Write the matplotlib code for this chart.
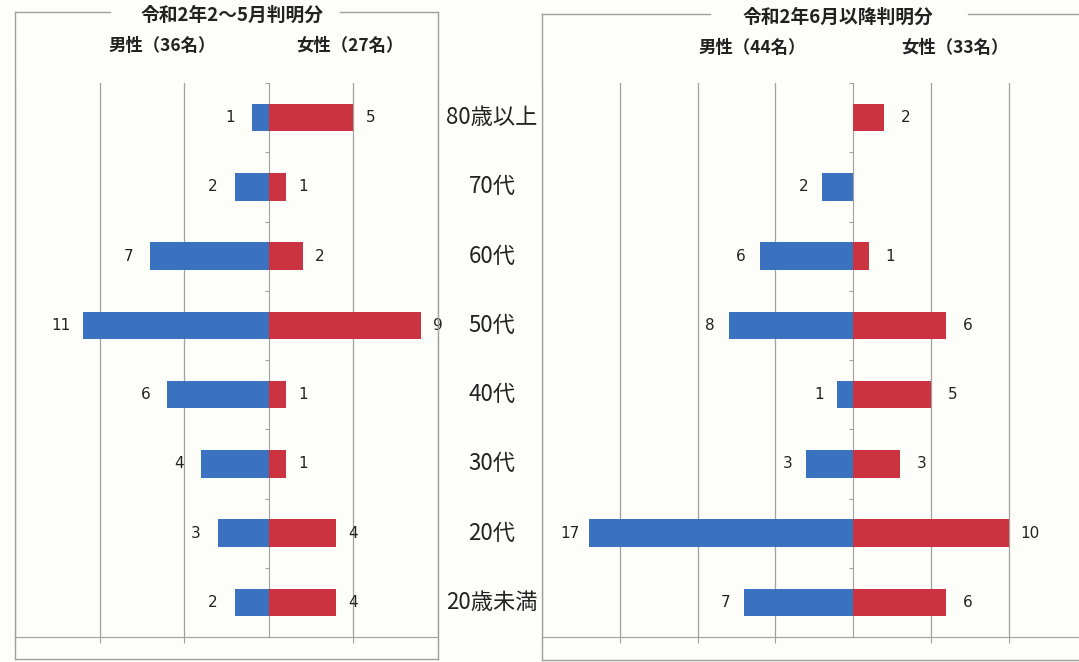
import matplotlib.pyplot as plt
from matplotlib import transforms
from matplotlib.lines import Line2D

plt.rcParams['font.family'] = ['Noto Sans CJK JP', 'DejaVu Sans']

# データ(上から下の順)
ages = ['80歳以上', '70代', '60代', '50代', '40代', '30代', '20代', '20歳未満']
male_1 = [1, 2, 7, 11, 6, 4, 3, 2]
female_1 = [5, 1, 2, 9, 1, 1, 4, 4]
male_2 = [0, 2, 6, 8, 1, 3, 17, 7]
female_2 = [2, 0, 1, 6, 5, 3, 10, 6]
titles = ['令和2年2～5月判明分', '令和2年6月以降判明分']
male_lbl = ['男性（36名）', '男性（44名）']
female_lbl = ['女性（27名）', '女性（33名）']

BLUE = '#3a72c0'
RED = '#cc3340'
GRID = '#a0a0a0'
BG = '#fdfdf9'

W, H = 1079, 662
fig = plt.figure(figsize=(W / 100, H / 100), dpi=100, facecolor=BG)

def fx(px):
    return px / W

def fy(py):
    return 1 - py / H

def dibujar(ax, male, female, xlim, dl, dr):
    y = list(range(len(ages)))
    ax.set_facecolor(BG)
    neg = [-m for m in male]
    ax.barh(y, neg, height=0.4, color=BLUE, zorder=3)
    ax.barh(y, female, height=0.4, color=RED, zorder=3)
    ax.set_xlim(*xlim)
    ax.set_ylim(len(ages) - 0.5, -0.5)
    for i in y:
        if male[i] > 0:
            ax.text(-male[i] - dl, i, str(male[i]), ha='center', va='center',
                    fontsize=11, color='#222222', family='DejaVu Sans')
        if female[i] > 0:
            ax.text(female[i] + dr, i, str(female[i]), ha='center', va='center',
                    fontsize=11, color='#222222', family='DejaVu Sans')
    ticks = [t for t in range(-20, 16, 5) if xlim[0] <= t <= xlim[1] and t != 0]
    ax.set_xticks(ticks)
    ax.set_xticklabels([])
    ax.tick_params(axis='x', length=4, color=GRID)
    for t in ticks:
        ax.axvline(t, color=GRID, lw=0.9, zorder=1)
    for s in ['top', 'right']:
        ax.spines[s].set_visible(False)
    ax.spines['left'].set_position(('data', 0))
    ax.spines['left'].set_color(GRID)
    ax.spines['bottom'].set_color(GRID)
    ax.set_yticks([i + 0.5 for i in range(-1, len(ages))])
    ax.set_yticklabels([])
    ax.tick_params(axis='y', length=3, color=GRID)

ax1 = fig.add_axes([fx(15), fy(637), fx(438 - 15), fy(83) - fy(637)])
dibujar(ax1, male_1, female_1, (-15, 10), 1.3, 1.0)
ax2 = fig.add_axes([fx(542), fy(637), fx(W - 542), fy(83) - fy(637)])
dibujar(ax2, male_2, female_2, (-20, 14.53), 1.2, 1.4)

# 年齢ラベル
tr = transforms.blended_transform_factory(fig.transFigure, ax1.transData)
for i, a in enumerate(ages):
    ax1.text(fx(492), i, a, transform=tr, ha='center', va='center',
             fontsize=16, color='#222222', clip_on=False)

# 枠線
def linea(x0, y0, x1, y1):
    fig.add_artist(Line2D([fx(x0), fx(x1)], [fy(y0), fy(y1)],
                          color=GRID, lw=1.0, transform=fig.transFigure))

linea(15, 12, 110, 12)
linea(340, 12, 438, 12)
linea(15, 12, 15, 659)
linea(438, 12, 438, 659)
linea(15, 659, 438, 659)
linea(542, 14, 710, 14)
linea(968, 14, W, 14)
linea(542, 14, 542, 660)
linea(542, 660, W, 660)

# タイトル
fig.text(fx(232), fy(15), titles[0], ha='center', va='center', fontsize=13.5,
         fontweight='bold', color='#222222')
fig.text(fx(838), fy(17), titles[1], ha='center', va='center', fontsize=13.5,
         fontweight='bold', color='#222222')
fig.text(fx(162), fy(46), male_lbl[0], ha='center', va='center', fontsize=12.5,
         fontweight='bold', color='#222222')
fig.text(fx(350), fy(46), female_lbl[0], ha='center', va='center', fontsize=12.5,
         fontweight='bold', color='#222222')
fig.text(fx(752), fy(48), male_lbl[1], ha='center', va='center', fontsize=12.5,
         fontweight='bold', color='#222222')
fig.text(fx(955), fy(48), female_lbl[1], ha='center', va='center', fontsize=12.5,
         fontweight='bold', color='#222222')

fig.savefig('out.png', dpi=100, facecolor=BG)
